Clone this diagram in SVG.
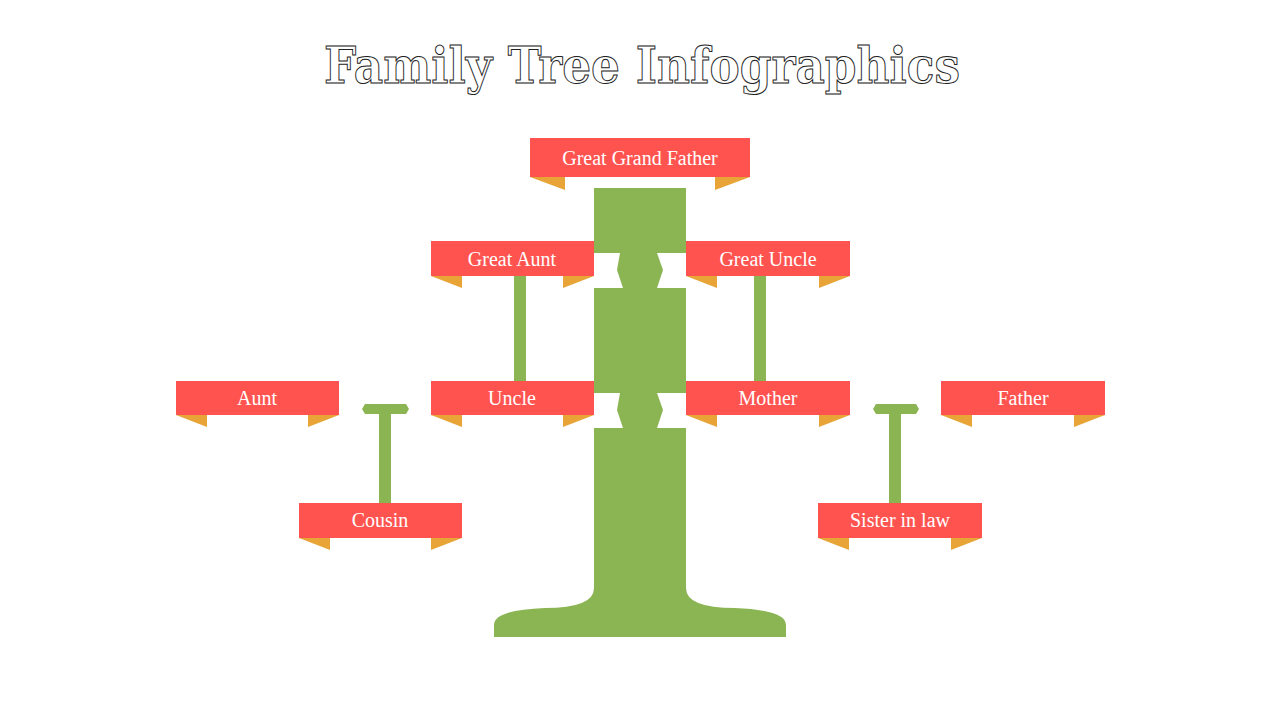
<svg xmlns="http://www.w3.org/2000/svg" width="1280" height="720" viewBox="0 0 1280 720">
<style>
.box{fill:#ff5350}.tail{fill:#e8a436}.g{fill:#8bb553}
.lbl{fill:#fff;font-family:"Liberation Serif","DejaVu Serif",serif;font-size:20px;text-anchor:middle}
.title{fill:#fff;stroke:#222;stroke-width:1;font-family:"DejaVu Serif","Liberation Serif",serif;font-size:50px;font-weight:bold;text-anchor:middle}
</style>
<rect width="1280" height="720" fill="#fff"/>
<text class="title" x="642" y="83" textLength="636" lengthAdjust="spacingAndGlyphs">Family Tree Infographics</text>
<g id="trunk" class="g">
<path d="M594 188H686V253H594Z"/>
<path d="M620 253H657L663 270L657 288H623L617 270Z"/>
<path d="M594 288H686V393H594Z"/>
<path d="M620 393H657L663 410L657 428H623L617 410Z"/>
<path d="M594 428H686V588Q686 608 735 608Q786 610 786 625V637H494V625Q494 610 545 608Q594 608 594 588Z"/>
</g>
<g id="connectors" class="g">
<rect x="514" y="276" width="12" height="105"/>
<rect x="754" y="276" width="12" height="105"/>
<path d="M365 404H406L409 409L406 414H365L362 409Z"/>
<rect x="379" y="414" width="12" height="89"/>
<path d="M876 404H916L919 409L916 414H876L873 409Z"/>
<rect x="889" y="414" width="12" height="89"/>
</g>
<g id="n-ggf"><path class="tail" d="M530 177H565V190Z M715 177H750L715 190Z"/><rect class="box" x="530" y="138" width="220" height="39"/><text class="lbl" x="640" y="165">Great Grand Father</text></g>
<g id="n-gaunt"><path class="tail" d="M431 276H462V288Z M563 276H594L563 288Z"/><rect class="box" x="431" y="241" width="163" height="35"/><text class="lbl" x="512" y="266">Great Aunt</text></g>
<g id="n-guncle"><path class="tail" d="M686 276H717V288Z M819 276H850L819 288Z"/><rect class="box" x="686" y="241" width="164" height="35"/><text class="lbl" x="768" y="266">Great Uncle</text></g>
<g id="n-aunt"><path class="tail" d="M176 415H207V427Z M308 415H339L308 427Z"/><rect class="box" x="176" y="381" width="163" height="34"/><text class="lbl" x="257" y="405">Aunt</text></g>
<g id="n-uncle"><path class="tail" d="M431 415H462V427Z M563 415H594L563 427Z"/><rect class="box" x="431" y="381" width="163" height="34"/><text class="lbl" x="512" y="405">Uncle</text></g>
<g id="n-mother"><path class="tail" d="M686 415H717V427Z M819 415H850L819 427Z"/><rect class="box" x="686" y="381" width="164" height="34"/><text class="lbl" x="768" y="405">Mother</text></g>
<g id="n-father"><path class="tail" d="M941 415H972V427Z M1074 415H1105L1074 427Z"/><rect class="box" x="941" y="381" width="164" height="34"/><text class="lbl" x="1023" y="405">Father</text></g>
<g id="n-cousin"><path class="tail" d="M299 538H330V550Z M431 538H462L431 550Z"/><rect class="box" x="299" y="503" width="163" height="35"/><text class="lbl" x="380" y="527">Cousin</text></g>
<g id="n-sister"><path class="tail" d="M818 538H849V550Z M951 538H982L951 550Z"/><rect class="box" x="818" y="503" width="164" height="35"/><text class="lbl" x="900" y="527">Sister in law</text></g>
</svg>
